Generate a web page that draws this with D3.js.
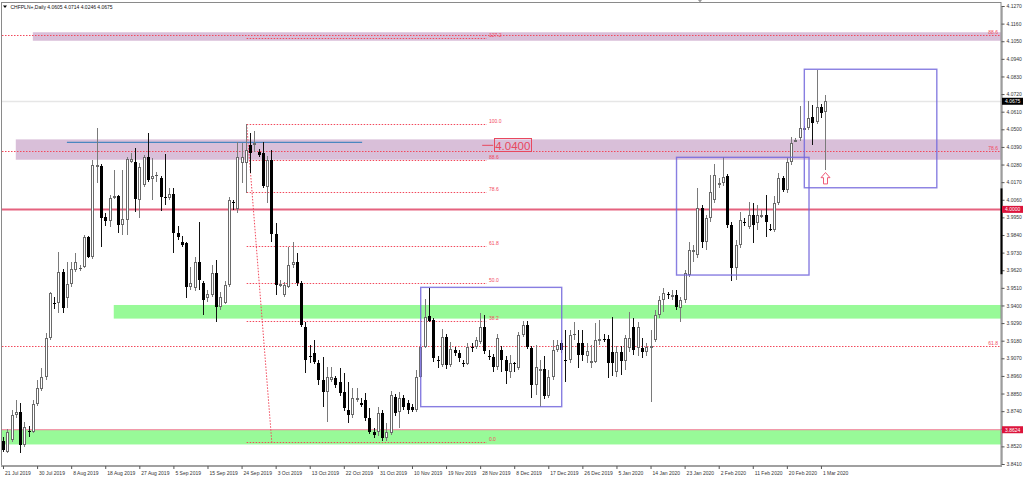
<!DOCTYPE html>
<html><head><meta charset="utf-8">
<script src="https://cdn.jsdelivr.net/npm/d3@7"></script>
<style>html,body{margin:0;padding:0;background:#fff;overflow:hidden}
text{font-family:"Liberation Sans",Arial,sans-serif}</style>
</head><body>
<svg id="c" width="1024" height="478"></svg>
<script>
// ---------------- DATA ----------------
const symbolTitle = "CHFPLN+,Daily";
const lastOHLC = [4.0605, 4.0714, 4.0246, 4.0675];
// daily candles [open, high, low, close]
const candles = [
[3.8554,3.8578,3.8485,3.8500],[3.8487,3.8628,3.8479,3.8612],[3.8560,3.8747,3.8547,3.8716],[3.8716,3.8810,3.8697,3.8737],
[3.8737,3.8791,3.8478,3.8528],[3.8528,3.8672,3.8516,3.8643],[3.8614,3.8647,3.8580,3.8610],[3.8611,3.8810,3.8603,3.8785],
[3.8785,3.8934,3.8772,3.8885],[3.8878,3.9009,3.8866,3.8955],[3.8953,3.9228,3.8934,3.9197],[3.9197,3.9486,3.9184,3.9476],
[3.9418,3.9452,3.9380,3.9407],[3.9415,3.9736,3.9353,3.9611],[3.9611,3.9628,3.9353,3.9382],[3.9447,3.9673,3.9384,3.9534],
[3.9534,3.9673,3.9515,3.9628],[3.9621,3.9727,3.9609,3.9673],[3.9632,3.9653,3.9615,3.9635],[3.9642,3.9840,3.9634,3.9827],
[3.9827,3.9834,3.9696,3.9704],[3.9704,4.0308,3.9690,4.0277],[4.0271,4.0508,4.0165,4.0280],[4.0271,4.0283,3.9767,3.9946],
[3.9952,3.9977,3.9896,3.9929],[3.9929,4.0089,3.9892,4.0073],[4.0073,4.0246,4.0065,4.0083],[4.0083,4.0089,3.9852,3.9902],
[3.9902,4.0246,3.9840,3.9940],[3.9934,4.0329,3.9840,4.0315],[4.0298,4.0352,4.0290,4.0315],[4.0298,4.0383,3.9986,4.0065],
[4.0059,4.0290,3.9946,4.0267],[4.0152,4.0339,4.0140,4.0327],[4.0327,4.0475,4.0173,4.0183],[4.0188,4.0321,4.0059,4.0209],
[4.0212,4.0235,4.0173,4.0215],[4.0196,4.0209,3.9992,4.0077],[4.0077,4.0346,4.0027,4.0075],[4.0071,4.0133,4.0059,4.0096],
[4.0096,4.0133,3.9726,3.9854],[3.9853,3.9896,3.9809,3.9828],[3.9796,3.9834,3.9765,3.9777],[3.9788,3.9796,3.9447,3.9513],
[3.9515,3.9640,3.9497,3.9540],[3.9507,3.9704,3.9490,3.9673],[3.9673,3.9923,3.9497,3.9559],[3.9538,3.9553,3.9340,3.9434],
[3.9447,3.9497,3.9422,3.9472],[3.9465,3.9653,3.9453,3.9603],[3.9603,3.9684,3.9299,3.9393],[3.9393,3.9484,3.9372,3.9455],
[3.9417,3.9553,3.9410,3.9528],[3.9528,4.0077,3.9515,4.0059],[4.0046,4.0060,3.9996,4.0044],[4.0000,4.0422,3.9977,4.0329],
[4.0290,4.0414,4.0165,4.0325],[4.0290,4.0535,4.0102,4.0371],[4.0402,4.0477,4.0227,4.0352],[4.0402,4.0489,4.0358,4.0413],
[4.0360,4.0377,4.0327,4.0339],[4.0352,4.0421,4.0133,4.0146],[4.0142,4.0333,4.0037,4.0308],[4.0308,4.0371,3.9798,3.9846],
[3.9846,3.9913,3.9465,3.9528],[3.9530,3.9559,3.9515,3.9536],[3.9465,3.9546,3.9453,3.9528],[3.9517,3.9767,3.9509,3.9653],
[3.9653,3.9798,3.9634,3.9673],[3.9673,3.9726,3.9521,3.9538],[3.9538,3.9553,3.9265,3.9278],[3.9267,3.9297,3.8976,3.9059],
[3.9087,3.9153,3.9041,3.9085],[3.9101,3.9184,3.9034,3.9049],[3.9038,3.9059,3.8903,3.8934],[3.8934,3.9080,3.8768,3.8861],
[3.8861,3.9018,3.8674,3.8955],[3.8934,3.9016,3.8922,3.8953],[3.8945,3.8959,3.8885,3.8903],[3.8924,3.9009,3.8834,3.8851],
[3.8861,3.8978,3.8741,3.8758],[3.8747,3.8924,3.8664,3.8716],[3.8716,3.8885,3.8697,3.8820],[3.8810,3.8885,3.8797,3.8820],
[3.8789,3.8822,3.8766,3.8778],[3.8810,3.8853,3.8678,3.8695],[3.8695,3.8760,3.8597,3.8612],[3.8612,3.8635,3.8572,3.8591],
[3.8612,3.8768,3.8585,3.8726],[3.8726,3.8747,3.8553,3.8570],[3.8570,3.8664,3.8552,3.8612],[3.8601,3.8866,3.8591,3.8841],
[3.8830,3.8847,3.8710,3.8726],[3.8737,3.8859,3.8633,3.8820],[3.8820,3.8841,3.8747,3.8768],[3.8791,3.8810,3.8722,3.8747],
[3.8768,3.8785,3.8735,3.8747],[3.8747,3.8997,3.8735,3.8955],[3.8955,3.9159,3.8947,3.9142],[3.9142,3.9442,3.9134,3.9327],
[3.9334,3.9507,3.9297,3.9304],[3.9309,3.9322,3.9047,3.9070],[3.9059,3.9084,3.9009,3.9051],[3.9028,3.9253,3.9016,3.9201],
[3.9201,3.9222,3.9003,3.9028],[3.9028,3.9174,3.9016,3.9126],[3.9122,3.9141,3.9084,3.9101],[3.9101,3.9122,3.9047,3.9072],
[3.9040,3.9059,3.9016,3.9036],[3.9036,3.9165,3.9028,3.9142],[3.9140,3.9165,3.9109,3.9136],[3.9142,3.9203,3.9128,3.9184],
[3.9174,3.9351,3.9159,3.9264],[3.9264,3.9340,3.9097,3.9117],[3.9086,3.9122,3.9059,3.9084],[3.9076,3.9097,3.8984,3.9014],
[3.9014,3.9222,3.8997,3.9195],[3.9122,3.9147,3.8984,3.9059],[3.9059,3.9084,3.8909,3.8993],[3.8986,3.9090,3.8947,3.9038],
[3.9040,3.9047,3.8984,3.9038],[3.9007,3.9234,3.8997,3.9215],[3.9215,3.9303,3.9203,3.9278],[3.9278,3.9303,3.9128,3.9142],
[3.9132,3.9147,3.8820,3.8903],[3.8903,3.9153,3.8841,3.9014],[3.9000,3.9059,3.8768,3.9003],[3.9001,3.9084,3.8816,3.8835],
[3.8835,3.8997,3.8822,3.8955],[3.8955,3.9184,3.8934,3.9122],[3.9122,3.9184,3.9109,3.9153],[3.9164,3.9184,3.9103,3.9122],
[3.9062,3.9247,3.8924,3.9059],[3.9059,3.9247,3.9038,3.9215],[3.9219,3.9297,3.9184,3.9222],[3.9168,3.9247,3.9009,3.9090],
[3.9164,3.9247,3.9053,3.9090],[3.9084,3.9165,3.9041,3.9117],[3.9041,3.9153,3.9009,3.9051],[3.9049,3.9290,3.9041,3.9184],
[3.9186,3.9309,3.9153,3.9189],[3.9189,3.9222,3.9172,3.9186],[3.9189,3.9215,3.8947,3.9038],[3.9111,3.9326,3.8959,3.9038],
[3.8986,3.9147,3.8953,3.9111],[3.9111,3.9147,3.8966,3.9055],[3.9055,3.9215,3.8997,3.9195],[3.9132,3.9361,3.9109,3.9195],
[3.9267,3.9322,3.9090,3.9122],[3.9132,3.9297,3.9084,3.9267],[3.9132,3.9197,3.9072,3.9111],[3.9111,3.9165,3.9084,3.9142],
[3.9140,3.9247,3.8799,3.9144],[3.9184,3.9372,3.9172,3.9340],[3.9340,3.9459,3.9322,3.9434],[3.9434,3.9509,3.9359,3.9476],
[3.9470,3.9484,3.9440,3.9466],[3.9455,3.9497,3.9434,3.9465],[3.9465,3.9497,3.9372,3.9392],[3.9382,3.9453,3.9295,3.9434],
[3.9434,3.9621,3.9415,3.9601],[3.9590,3.9798,3.9578,3.9746],[3.9740,3.9777,3.9671,3.9746],[3.9715,4.0131,3.9696,4.0007],
[4.0007,4.0027,3.9759,3.9798],[3.9798,3.9965,3.9746,3.9944],[3.9944,4.0214,3.9921,4.0110],[4.0059,4.0285,4.0040,4.0215],
[4.0158,4.0193,4.0133,4.0162],[4.0165,4.0329,4.0146,4.0202],[4.0209,4.0221,3.9884,3.9902],[3.9902,3.9921,3.9555,3.9632],
[3.9632,3.9809,3.9559,3.9777],[3.9777,3.9984,3.9759,3.9934],[3.9920,3.9946,3.9896,3.9917],[3.9892,4.0048,3.9877,3.9965],
[3.9965,4.0038,3.9788,3.9902],[3.9913,4.0027,3.9871,3.9965],[3.9960,3.9996,3.9946,3.9968],[3.9965,4.0089,3.9826,3.9923],
[3.9880,3.9909,3.9865,3.9876],[3.9871,4.0083,3.9858,4.0038],[4.0038,4.0227,4.0027,4.0194],[4.0194,4.0209,4.0108,4.0121],
[4.0121,4.0321,4.0102,4.0298],[4.0298,4.0452,4.0277,4.0413],[4.0430,4.0445,4.0421,4.0434],[4.0444,4.0643,4.0427,4.0506],
[4.0504,4.0518,4.0496,4.0508],[4.0506,4.0677,4.0496,4.0568],[4.0578,4.0651,4.0402,4.0537],[4.0547,4.0868,4.0531,4.0640],
[4.0637,4.0658,4.0570,4.0600],[4.0605,4.0714,4.0246,4.0675]
];
const dateLabels = ["21 Jul 2019","30 Jul 2019","8 Aug 2019","18 Aug 2019","27 Aug 2019","5 Sep 2019","15 Sep 2019",
  "24 Sep 2019","3 Oct 2019","13 Oct 2019","22 Oct 2019","31 Oct 2019","10 Nov 2019","19 Nov 2019","28 Nov 2019",
  "8 Dec 2019","17 Dec 2019","26 Dec 2019","5 Jan 2020","14 Jan 2020","23 Jan 2020","2 Feb 2020","11 Feb 2020",
  "20 Feb 2020","1 Mar 2020"];
const dateLabelBars = [0,8,16,24,32,40,48,56,64,72,80,88,96,104,112,120,128,136,144,152,160,168,176,184,192];
const priceTicks = [4.1270,4.1160,4.1050,4.0940,4.0830,4.0720,4.0610,4.0500,4.0390,4.0280,4.0170,4.0060,
  3.9950,3.9840,3.9730,3.9620,3.9510,3.9400,3.9290,3.9180,3.9070,3.8960,3.8850,3.8740,3.8630,3.8520,3.8410];
// shaded zones: [low, high, first bar]
const zoneLow   = [4.1053, 4.0310, 3.9318, 3.8532];
const zoneHigh  = [4.1106, 4.0437, 3.9403, 3.8622];
const zoneStart = [7.0, 3.0, 26.0, -1];
const zoneKind  = ["purple","purple","green","green"];
// fibonacci retracement (drawn on the Sep high -> Nov low swing)
const fibAHigh = 4.0532, fibALow = 3.8545;
const fibALevels = [0, 38.2, 50, 61.8, 78.6, 88.6, 100, 127.2];
const fibAStartBar = 57.2, fibAEndBar = 113.6, fibATrendEndBar = 63.1;
// larger fibonacci levels across the whole chart
const fibBLevels = [88.6, 78.6, 61.8];
const fibBPrices = [4.1086, 4.0363, 3.9146];
// horizontal lines
const resistanceBlue = {price: 4.0419, from: 15.0, to: 84.3};
const redLineMain = 4.0000, redLineLow = 3.8624;
const bidPrice = 4.0675;
const textLabelPrice = 4.0400, textLabelBar = 115.3;
// rectangles: [bar from, bar to, price top, price bottom]
const boxFrom = [98.05, 158.1, 188.1];
const boxTo   = [131.15, 189.2, 219.2];
const boxTop  = [3.9513, 4.0325, 4.0875];
const boxBot  = [3.8768, 3.9590, 4.0135];
const arrowBar = 193, arrowTop = 4.0230, arrowBottom = 4.0159;
const axisMarkTop = 4.0131, axisMarkBottom = 3.9595;

// ---------------- DRAW ----------------
const svg = d3.select("#c");
const L = 2, R = 1001, T = 3, B = 466;
const x = d3.scaleLinear().domain([0, 193]).range([3, 825.2]);
const y = d3.scaleLinear().domain([3.8410, 4.1270]).range([464, 6]);
const FIB = "#f2495c";

const plot = svg.append("g");
// zones
zoneLow.forEach((lo, i) => {
  const x0 = zoneStart[i] < 0 ? L : x(zoneStart[i]);
  plot.append("rect").attr("x", x0).attr("width", R - x0)
    .attr("y", y(zoneHigh[i])).attr("height", y(lo) - y(zoneHigh[i]))
    .attr("fill", zoneKind[i] === "purple" ? "#d9bfd9" : "#98fa98");
});
// bid line
plot.append("line").attr("x1", L).attr("x2", R).attr("y1", Math.round(y(bidPrice)) + 0.5).attr("y2", Math.round(y(bidPrice)) + 0.5)
  .attr("stroke", "#e6e6e6").attr("stroke-width", 1.5);
// red solid lines
plot.append("line").attr("x1", L).attr("x2", R).attr("y1", y(redLineMain)).attr("y2", y(redLineMain))
  .attr("stroke", "#e5627f").attr("stroke-width", 2);
plot.append("line").attr("x1", L).attr("x2", R).attr("y1", y(redLineLow)).attr("y2", y(redLineLow))
  .attr("stroke", "#ee7d92").attr("stroke-width", 1);
// fib B
fibBPrices.forEach((p, i) => {
  const yy = Math.round(y(p)) + 0.5;
  plot.append("line").attr("x1", L).attr("x2", R).attr("y1", yy).attr("y2", yy)
    .attr("stroke", FIB).attr("stroke-width", 1).attr("stroke-dasharray", "1.5,1.5");
  plot.append("text").attr("x", 998).attr("y", yy - 1.5).attr("text-anchor", "end")
    .attr("font-size", 5).attr("fill", FIB).text(fibBLevels[i].toFixed(1));
});
// fib A
fibALevels.forEach(lv => {
  const p = fibALow + (fibAHigh - fibALow) * lv / 100;
  const yy = Math.round(y(p)) + 0.5;
  plot.append("line").attr("x1", x(fibAStartBar)).attr("x2", x(fibAEndBar)).attr("y1", yy).attr("y2", yy)
    .attr("stroke", FIB).attr("stroke-width", 1).attr("stroke-dasharray", "1.5,1.5");
  plot.append("text").attr("x", x(fibAEndBar) + 2).attr("y", yy - 1.5)
    .attr("font-size", 5).attr("fill", FIB).text(lv.toFixed(1));
});
plot.append("line").attr("x1", x(fibAStartBar)).attr("y1", y(fibAHigh)).attr("x2", x(fibATrendEndBar)).attr("y2", y(fibALow))
  .attr("stroke", FIB).attr("stroke-width", 1).attr("stroke-dasharray", "1.5,1.5");
// blue resistance line
plot.append("line").attr("x1", x(resistanceBlue.from)).attr("x2", x(resistanceBlue.to))
  .attr("y1", y(resistanceBlue.price)).attr("y2", y(resistanceBlue.price))
  .attr("stroke", "#4a86c0").attr("stroke-width", 1.3);

// candles
const cg = plot.append("g");
candles.forEach((d, i) => {
  const [o, h, l, c] = d;
  const cx = Math.round(x(i)) + 0.5;
  const bull = c >= o;
  cg.append("line").attr("x1", cx).attr("x2", cx).attr("y1", Math.round(y(h))).attr("y2", Math.round(y(l)))
    .attr("stroke", bull ? "#7a7a7a" : "#111").attr("stroke-width", 1);
  const yt = Math.round(y(Math.max(o, c))), yb = Math.round(y(Math.min(o, c)));
  if (yb - yt < 1) {
    cg.append("line").attr("x1", cx - 1.5).attr("x2", cx + 1.5).attr("y1", yt + 0.5).attr("y2", yt + 0.5)
      .attr("stroke", bull ? "#555" : "#000");
  } else if (bull) {
    cg.append("rect").attr("x", cx - 1).attr("width", 2).attr("y", yt + 0.5).attr("height", Math.max(1, yb - yt - 1))
      .attr("fill", "#fff").attr("stroke", "#6a6a6a").attr("stroke-width", 1);
  } else {
    cg.append("rect").attr("x", cx - 1.5).attr("width", 3).attr("y", yt).attr("height", yb - yt).attr("fill", "#000");
  }
});

// rectangles
boxFrom.forEach((bf, i) => {
  plot.append("rect").attr("x", x(bf)).attr("y", y(boxTop[i])).attr("width", x(boxTo[i]) - x(bf))
    .attr("height", y(boxBot[i]) - y(boxTop[i])).attr("fill", "none")
    .attr("stroke", "#7367dc").attr("stroke-width", 1.4).attr("stroke-opacity", 0.85);
});
// arrow
{
  const ax = Math.round(x(arrowBar)) + 0.5, yt = y(arrowTop), yb = y(arrowBottom), hh = (yb - yt) * 0.45;
  const pts = [[ax, yt], [ax + 4.5, yt + hh], [ax + 2, yt + hh], [ax + 2, yb], [ax - 2, yb], [ax - 2, yt + hh], [ax - 4.5, yt + hh]];
  plot.append("polygon").attr("points", pts.map(p => p.join(",")).join(" "))
    .attr("fill", "#fff").attr("stroke", "#ef5a78").attr("stroke-width", 1);
}
// 4.0400 text label
{
  const tx = x(textLabelBar), ty = y(textLabelPrice);
  plot.append("line").attr("x1", tx - 12).attr("x2", tx - 1).attr("y1", ty).attr("y2", ty).attr("stroke", "#e8485e").attr("stroke-width", 1);
  const t = plot.append("text").attr("x", tx + 1).attr("y", ty + 4.2).attr("font-size", 11.5).attr("fill", "#e8485e")
    .text(textLabelPrice.toFixed(4));
  const bb = t.node().getBBox();
  plot.append("rect").attr("x", Math.round(bb.x) - 0.5).attr("y", Math.round(ty) - 6.5).attr("width", Math.round(bb.width) + 2)
    .attr("height", 13).attr("fill", "none").attr("stroke", "#e8485e").attr("stroke-width", 1);
}

// frame
svg.append("rect").attr("x", 1.5).attr("y", 2.5).attr("width", R - 1.5).attr("height", B - 2.5)
  .attr("fill", "none").attr("stroke", "#8a8a8a").attr("stroke-width", 1);
svg.append("line").attr("x1", 1).attr("x2", R + 1).attr("y1", B).attr("y2", B).attr("stroke", "#a0a0a0").attr("stroke-width", 2);

// right price axis
const ya = svg.append("g").attr("transform", `translate(${R + 0.5},0)`)
  .call(d3.axisRight(y).tickValues(priceTicks).tickFormat(d3.format(".4f")).tickSize(3).tickPadding(2));
ya.select(".domain").attr("stroke", "#777");
ya.selectAll(".tick line").attr("stroke", "#555");
ya.selectAll(".tick text").attr("font-size", 5).attr("fill", "#333").attr("font-family", "Liberation Sans, Arial");
svg.append("line").attr("x1", R + 0.5).attr("x2", R + 0.5).attr("y1", y(axisMarkTop)).attr("y2", y(axisMarkBottom))
  .attr("stroke", "#000").attr("stroke-width", 2);
// axis price tags
[[bidPrice, "#000"], [redLineMain, "#dc143c"], [redLineLow, "#dc143c"]].forEach(([p, col]) => {
  const yy = y(p);
  svg.append("rect").attr("x", R + 1).attr("y", yy - 3.5).attr("width", 21).attr("height", 7).attr("fill", col);
  svg.append("text").attr("x", R + 4).attr("y", yy + 1.8).attr("font-size", 5).attr("fill", "#fff").text(p.toFixed(4));
});

// bottom date axis
const xa = svg.append("g").attr("transform", `translate(0,${B})`)
  .call(d3.axisBottom(x).tickValues(dateLabelBars).tickFormat((d, k) => dateLabels[k]).tickSize(3).tickPadding(2));
xa.select(".domain").remove();
xa.selectAll(".tick line").attr("stroke", "#555");
xa.selectAll(".tick text").attr("font-size", 5).attr("fill", "#333").attr("text-anchor", "start").attr("dx", 1.5)
  .attr("font-family", "Liberation Sans, Arial");

// header
svg.append("path").attr("d", "M3,5.5 L7,5.5 L5,8 Z").attr("fill", "#000");
svg.append("text").attr("x", 10.5).attr("y", 8.6).attr("font-size", 5).attr("fill", "#111")
  .text(symbolTitle + "  " + lastOHLC.map(v => v.toFixed(4)).join(" "));
// chart-shift marker
svg.append("path").attr("d", "M698,0 L702,0 L700,2.5 Z").attr("fill", "#999");
</script>
</body></html>
